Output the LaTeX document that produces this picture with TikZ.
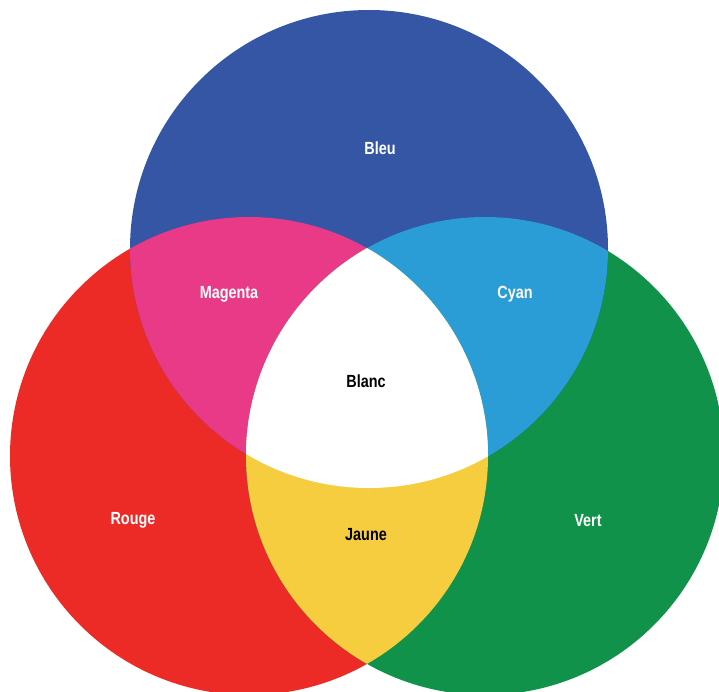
\documentclass[tikz,border=0pt]{standalone}
\usepackage{fontspec}
\usepackage{xcolor}
\usepackage{tikz}
\newfontfamily\labelfont[FakeStretch=0.82]{Liberation Sans}
\definecolor{RVBBlue}{HTML}{3456A4}
\definecolor{RVBRed}{HTML}{EC2A26}
\definecolor{RVBGreen}{HTML}{11924A}
\definecolor{RVBMagenta}{HTML}{E83A86}
\definecolor{RVBCyan}{HTML}{2A9DD6}
\definecolor{RVBYellow}{HTML}{F5CD3E}
\tikzset{
  rvblabel/.style={font=\labelfont\bfseries\fontsize{15}{17}\selectfont,text=white},
  rvbdark/.style={rvblabel,text=black}
}

\begin{document}
\begin{tikzpicture}[x=0.03cm,y=-0.03cm]
\path[use as bounding box] (0,0) rectangle (719,691);
\coordinate (bleuC) at (369,249);
\coordinate (rougeC) at (249,456);
\coordinate (vertC) at (485,456);
\def\rayon{239}
% primary discs
\fill[RVBRed] (rougeC) circle (\rayon);
\fill[RVBGreen] (vertC) circle (\rayon);
\fill[RVBBlue] (bleuC) circle (\rayon);
% two-by-two overlaps
\begin{scope}
\clip (bleuC) circle (\rayon);
\fill[RVBMagenta] (rougeC) circle (\rayon);
\fill[RVBCyan] (vertC) circle (\rayon);
\end{scope}
\begin{scope}
\clip (rougeC) circle (\rayon);
\fill[RVBYellow] (vertC) circle (\rayon);
\end{scope}
% centre
\begin{scope}
\clip (bleuC) circle (\rayon);
\clip (rougeC) circle (\rayon);
\fill[white] (vertC) circle (\rayon);
\end{scope}
\node[rvblabel] (bleu) at (380,148) {Bleu};
\node[rvblabel] (magenta) at (229,294) {Magenta};
\node[rvblabel] (cyan) at (515,294) {Cyan};
\node[rvbdark] (blanc) at (366,381) {Blanc};
\node[rvblabel] (rouge) at (133,520) {Rouge};
\node[rvbdark] (jaune) at (366,535) {Jaune};
\node[rvblabel] (vert) at (588,521) {Vert};
\end{tikzpicture}
\end{document}
